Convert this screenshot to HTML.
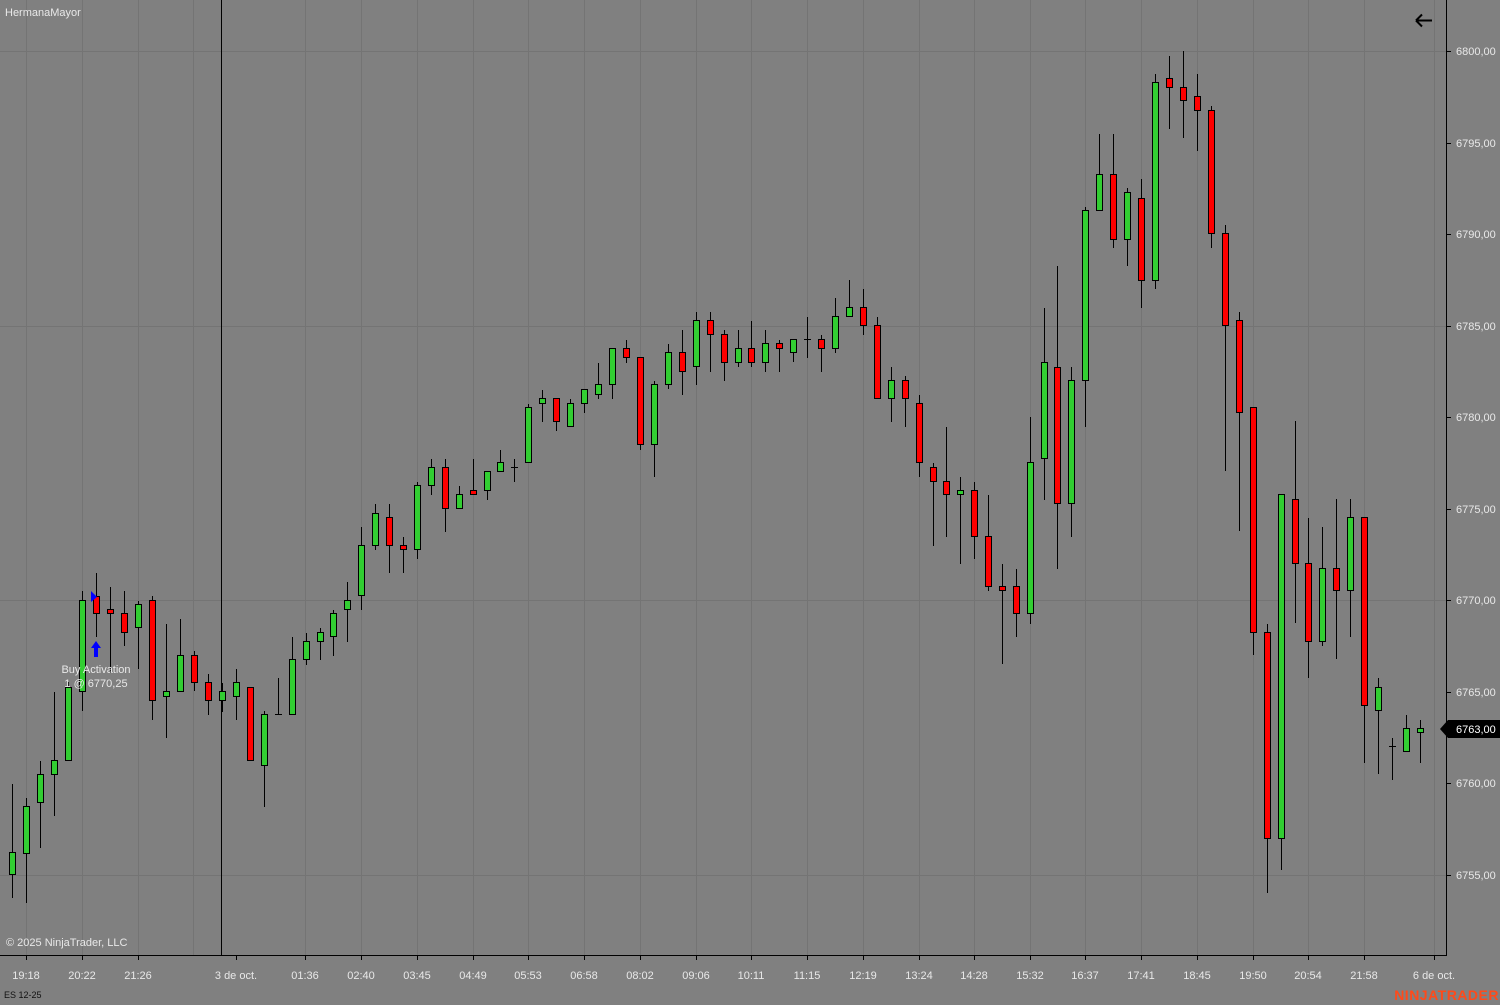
<!DOCTYPE html>
<html><head><meta charset="utf-8"><style>
html,body{margin:0;padding:0;background:#808080;}
svg{display:block;font-family:"Liberation Sans",sans-serif;}
.g{fill:#32cd32;stroke:#000;stroke-width:1}
.r{fill:#ff0000;stroke:#000;stroke-width:1}
.t{fill:#e8e8e8;font-size:11px}
</style></head><body>
<svg width="1500" height="1005" viewBox="0 0 1500 1005" xmlns="http://www.w3.org/2000/svg">
<rect width="1500" height="1005" fill="#808080"/>
<g stroke="#747474" stroke-width="1">
<path d="M0 51.5H1446M0 326.5H1446M0 600.5H1446M0 875.5H1446"/>
<path d="M26.5 0V955M82.5 0V955M138.5 0V955M193.5 0V955M305.5 0V955M361.5 0V955M417.5 0V955M473.5 0V955M528.5 0V955M584.5 0V955M640.5 0V955M696.5 0V955M751.5 0V955M807.5 0V955M863.5 0V955M919.5 0V955M974.5 0V955M1030.5 0V955M1085.5 0V955M1141.5 0V955M1197.5 0V955M1253.5 0V955M1308.5 0V955M1364.5 0V955M1434.5 0V955"/>
</g>
<path d="M221.5 0V955" stroke="#000" stroke-width="1"/>
<path d="M1446.5 0V956M0 955.5H1447" stroke="#000" stroke-width="1"/>
<g stroke="#000" stroke-width="1">
<path d="M1446 51.5h5M1446 143.5h5M1446 234.5h5M1446 326.5h5M1446 417.5h5M1446 509.5h5M1446 600.5h5M1446 692.5h5M1446 783.5h5M1446 875.5h5"/>
<path d="M26.5 955v5M82.5 955v5M138.5 955v5M236.5 955v5M305.5 955v5M361.5 955v5M417.5 955v5M473.5 955v5M528.5 955v5M584.5 955v5M640.5 955v5M696.5 955v5M751.5 955v5M807.5 955v5M863.5 955v5M919.5 955v5M974.5 955v5M1030.5 955v5M1085.5 955v5M1141.5 955v5M1197.5 955v5M1253.5 955v5M1308.5 955v5M1364.5 955v5M1434.5 955v5"/>
</g>
<g stroke="#000" stroke-width="1" fill="none">
<path d="M12.5 784V898M26.5 798V903M40.5 761V848M54.5 692V816M68.5 682V760M82.5 591V711M96.5 573V637M110.5 587V673M124.5 591V646M138.5 601V669M152.5 596V720M166.5 624V738M180.5 619V691M194.5 651V691M208.5 674V715M222.5 683V712M236.5 669V720M250.5 687V760M264.5 711V807M278.5 678V714M275 714.5h7M292.5 637V714M306.5 633V665M320.5 628V660M333.5 610V656M347.5 582V642M361.5 527V610M375.5 504V550M389.5 504V573M403.5 537V573M417.5 482V559M431.5 459V495M445.5 459V532M459.5 486V508M473.5 459V494M487.5 471V500M500.5 450V471M514.5 459V482M511 467.5h7M528.5 404V462M542.5 390V422M556.5 398V431M570.5 399V426M584.5 389V413M598.5 363V399M612.5 348V399M626.5 340V363M640.5 357V450M654.5 381V477M668.5 344V389M682.5 330V395M696.5 312V385M710.5 312V372M724.5 330V381M738.5 330V367M751.5 321V367M765.5 330V372M779.5 340V372M793.5 339V362M807.5 317V358M804 339.5h7M821.5 335V372M835.5 298V353M849.5 280V316M863.5 289V335M877.5 317V398M891.5 367V422M905.5 376V427M919.5 395V477M933.5 463V546M946.5 427V537M960.5 477V564M974.5 482V559M988.5 495V591M1002.5 564V664M1016.5 569V637M1030.5 417V624M1044.5 308V500M1057.5 266V569M1071.5 367V537M1085.5 207V427M1099.5 134V210M1113.5 134V248M1127.5 188V266M1141.5 179V308M1155.5 74V289M1169.5 56V129M1183.5 51V138M1197.5 74V151M1211.5 106V248M1225.5 225V471M1239.5 312V531M1253.5 407V655M1267.5 624V893M1281.5 494V870M1295.5 421V623M1308.5 518V678M1322.5 527V646M1336.5 499V659M1350.5 499V637M1364.5 517V763M1378.5 678V774M1392.5 738V780M1389 746.5h7M1406.5 715V751M1420.5 720V763"/>
</g>
<g>
<rect class="g" x="9.5" y="852.5" width="6" height="22"/>
<rect class="g" x="23.5" y="806.5" width="6" height="47"/>
<rect class="g" x="37.5" y="774.5" width="6" height="28"/>
<rect class="g" x="51.5" y="760.5" width="6" height="14"/>
<rect class="g" x="65.5" y="687.5" width="6" height="73"/>
<rect class="g" x="79.5" y="600.5" width="6" height="91"/>
<rect class="r" x="93.5" y="596.5" width="6" height="17"/>
<rect class="r" x="107.5" y="609.5" width="6" height="4"/>
<rect class="r" x="121.5" y="613.5" width="6" height="19"/>
<rect class="g" x="135.5" y="604.5" width="6" height="23"/>
<rect class="r" x="149.5" y="600.5" width="6" height="100"/>
<rect class="g" x="163.5" y="691.5" width="6" height="5"/>
<rect class="g" x="177.5" y="655.5" width="6" height="36"/>
<rect class="r" x="191.5" y="655.5" width="6" height="27"/>
<rect class="r" x="205.5" y="682.5" width="6" height="18"/>
<rect class="g" x="219.5" y="691.5" width="6" height="9"/>
<rect class="g" x="233.5" y="682.5" width="6" height="14"/>
<rect class="r" x="247.5" y="687.5" width="6" height="73"/>
<rect class="g" x="261.5" y="714.5" width="6" height="51"/>
<rect class="g" x="289.5" y="659.5" width="6" height="55"/>
<rect class="g" x="303.5" y="641.5" width="6" height="18"/>
<rect class="g" x="317.5" y="632.5" width="6" height="9"/>
<rect class="g" x="330.5" y="613.5" width="6" height="23"/>
<rect class="g" x="344.5" y="600.5" width="6" height="9"/>
<rect class="g" x="358.5" y="545.5" width="6" height="50"/>
<rect class="g" x="372.5" y="513.5" width="6" height="32"/>
<rect class="r" x="386.5" y="517.5" width="6" height="28"/>
<rect class="r" x="400.5" y="545.5" width="6" height="4"/>
<rect class="g" x="414.5" y="485.5" width="6" height="64"/>
<rect class="g" x="428.5" y="467.5" width="6" height="18"/>
<rect class="r" x="442.5" y="467.5" width="6" height="41"/>
<rect class="g" x="456.5" y="494.5" width="6" height="14"/>
<rect class="r" x="470.5" y="490.5" width="6" height="4"/>
<rect class="g" x="484.5" y="471.5" width="6" height="19"/>
<rect class="g" x="497.5" y="462.5" width="6" height="9"/>
<rect class="g" x="525.5" y="407.5" width="6" height="55"/>
<rect class="g" x="539.5" y="398.5" width="6" height="5"/>
<rect class="r" x="553.5" y="398.5" width="6" height="23"/>
<rect class="g" x="567.5" y="403.5" width="6" height="23"/>
<rect class="g" x="581.5" y="389.5" width="6" height="14"/>
<rect class="g" x="595.5" y="384.5" width="6" height="10"/>
<rect class="g" x="609.5" y="348.5" width="6" height="36"/>
<rect class="r" x="623.5" y="348.5" width="6" height="9"/>
<rect class="r" x="637.5" y="357.5" width="6" height="87"/>
<rect class="g" x="651.5" y="384.5" width="6" height="60"/>
<rect class="g" x="665.5" y="352.5" width="6" height="32"/>
<rect class="r" x="679.5" y="352.5" width="6" height="19"/>
<rect class="g" x="693.5" y="320.5" width="6" height="46"/>
<rect class="r" x="707.5" y="320.5" width="6" height="14"/>
<rect class="r" x="721.5" y="334.5" width="6" height="28"/>
<rect class="g" x="735.5" y="348.5" width="6" height="14"/>
<rect class="r" x="748.5" y="348.5" width="6" height="14"/>
<rect class="g" x="762.5" y="343.5" width="6" height="19"/>
<rect class="r" x="776.5" y="343.5" width="6" height="5"/>
<rect class="g" x="790.5" y="339.5" width="6" height="13"/>
<rect class="r" x="818.5" y="339.5" width="6" height="9"/>
<rect class="g" x="832.5" y="316.5" width="6" height="32"/>
<rect class="g" x="846.5" y="307.5" width="6" height="9"/>
<rect class="r" x="860.5" y="307.5" width="6" height="18"/>
<rect class="r" x="874.5" y="325.5" width="6" height="73"/>
<rect class="g" x="888.5" y="380.5" width="6" height="18"/>
<rect class="r" x="902.5" y="380.5" width="6" height="18"/>
<rect class="r" x="916.5" y="403.5" width="6" height="59"/>
<rect class="r" x="930.5" y="467.5" width="6" height="14"/>
<rect class="r" x="943.5" y="481.5" width="6" height="13"/>
<rect class="g" x="957.5" y="490.5" width="6" height="4"/>
<rect class="r" x="971.5" y="490.5" width="6" height="46"/>
<rect class="r" x="985.5" y="536.5" width="6" height="50"/>
<rect class="r" x="999.5" y="586.5" width="6" height="4"/>
<rect class="r" x="1013.5" y="586.5" width="6" height="27"/>
<rect class="g" x="1027.5" y="462.5" width="6" height="151"/>
<rect class="g" x="1041.5" y="362.5" width="6" height="96"/>
<rect class="r" x="1054.5" y="367.5" width="6" height="136"/>
<rect class="g" x="1068.5" y="380.5" width="6" height="123"/>
<rect class="g" x="1082.5" y="210.5" width="6" height="170"/>
<rect class="g" x="1096.5" y="174.5" width="6" height="36"/>
<rect class="r" x="1110.5" y="174.5" width="6" height="65"/>
<rect class="g" x="1124.5" y="192.5" width="6" height="47"/>
<rect class="r" x="1138.5" y="198.5" width="6" height="82"/>
<rect class="g" x="1152.5" y="82.5" width="6" height="198"/>
<rect class="r" x="1166.5" y="78.5" width="6" height="9"/>
<rect class="r" x="1180.5" y="87.5" width="6" height="13"/>
<rect class="r" x="1194.5" y="96.5" width="6" height="14"/>
<rect class="r" x="1208.5" y="110.5" width="6" height="123"/>
<rect class="r" x="1222.5" y="233.5" width="6" height="92"/>
<rect class="r" x="1236.5" y="320.5" width="6" height="92"/>
<rect class="r" x="1250.5" y="407.5" width="6" height="225"/>
<rect class="r" x="1264.5" y="632.5" width="6" height="206"/>
<rect class="g" x="1278.5" y="494.5" width="6" height="344"/>
<rect class="r" x="1292.5" y="499.5" width="6" height="64"/>
<rect class="r" x="1305.5" y="563.5" width="6" height="78"/>
<rect class="g" x="1319.5" y="568.5" width="6" height="73"/>
<rect class="r" x="1333.5" y="568.5" width="6" height="22"/>
<rect class="g" x="1347.5" y="517.5" width="6" height="73"/>
<rect class="r" x="1361.5" y="517.5" width="6" height="188"/>
<rect class="g" x="1375.5" y="687.5" width="6" height="23"/>
<rect class="g" x="1403.5" y="728.5" width="6" height="23"/>
<rect class="g" x="1417.5" y="728.5" width="6" height="4"/>
</g>
<!-- buy marker -->
<polygon points="91,591 97,597 91,602" fill="#0000ff"/>
<polygon points="96,641 101,648 98,648 98,657 94,657 94,648 91,648" fill="#0000ff"/>
<text class="t" x="96" y="673" text-anchor="middle">Buy Activation</text>
<text class="t" x="96" y="687" text-anchor="middle">1 @ 6770,25</text>
<!-- price labels -->
<g class="t">
<text x="1456" y="55">6800,00</text>
<text x="1456" y="147">6795,00</text>
<text x="1456" y="238">6790,00</text>
<text x="1456" y="330">6785,00</text>
<text x="1456" y="421">6780,00</text>
<text x="1456" y="513">6775,00</text>
<text x="1456" y="604">6770,00</text>
<text x="1456" y="696">6765,00</text>
<text x="1456" y="787">6760,00</text>
<text x="1456" y="879">6755,00</text>
</g>
<polygon points="1440,729 1448,720 1500,720 1500,738 1448,738" fill="#000"/>
<text x="1456" y="733" fill="#fff" font-size="11">6763,00</text>
<!-- time labels -->
<g class="t" text-anchor="middle">
<text x="26" y="979">19:18</text><text x="82" y="979">20:22</text><text x="138" y="979">21:26</text>
<text x="236" y="979">3 de oct.</text><text x="305" y="979">01:36</text><text x="361" y="979">02:40</text>
<text x="417" y="979">03:45</text><text x="473" y="979">04:49</text><text x="528" y="979">05:53</text>
<text x="584" y="979">06:58</text><text x="640" y="979">08:02</text><text x="696" y="979">09:06</text>
<text x="751" y="979">10:11</text><text x="807" y="979">11:15</text><text x="863" y="979">12:19</text>
<text x="919" y="979">13:24</text><text x="974" y="979">14:28</text><text x="1030" y="979">15:32</text>
<text x="1085" y="979">16:37</text><text x="1141" y="979">17:41</text><text x="1197" y="979">18:45</text>
<text x="1253" y="979">19:50</text><text x="1308" y="979">20:54</text><text x="1364" y="979">21:58</text>
<text x="1434" y="979">6 de oct.</text>
</g>
<text class="t" x="5" y="16">HermanaMayor</text>
<text class="t" x="6" y="946">© 2025 NinjaTrader, LLC</text>
<text x="4" y="998" fill="#111" font-size="9">ES 12-25</text>
<text x="1499" y="1000" fill="#ff4a1a" font-size="14" font-weight="bold" text-anchor="end" letter-spacing="0.5">NINJATRADER</text>
<path d="M1416 20.5H1432M1416 20.5l6-6M1416 20.5l6 6" stroke="#000" stroke-width="2" fill="none"/>
</svg>
</body></html>
